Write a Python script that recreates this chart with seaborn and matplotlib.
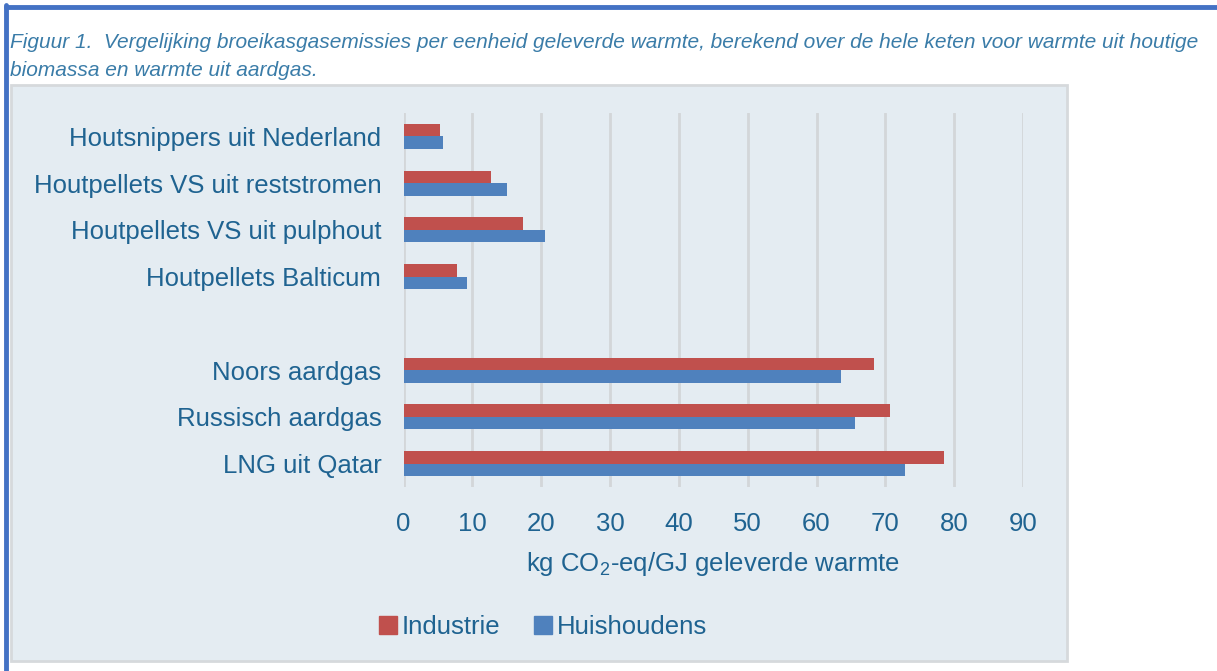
import matplotlib
matplotlib.use("Agg")
import matplotlib.pyplot as plt
from matplotlib.patches import Rectangle
from matplotlib.lines import Line2D
import pandas as pd
import seaborn as sns

# Data
categories = [
    "Houtsnippers uit Nederland",
    "Houtpellets VS uit reststromen",
    "Houtpellets VS uit pulphout",
    "Houtpellets Balticum",
    "Noors aardgas",
    "Russisch aardgas",
    "LNG uit Qatar",
]
industrie = [5.3, 12.7, 17.3, 7.7, 68.4, 70.7, 78.5]
huishoudens = [5.8, 15.1, 20.5, 9.2, 63.5, 65.6, 72.8]
series = ["Industrie", "Huishoudens"]
colors = ["#C0504D", "#4F81BD"]
xticks = [0, 10, 20, 30, 40, 50, 60, 70, 80, 90]

# empty slot between wood and gas groups
order = categories[:4] + [" "] + categories[4:]

df = pd.DataFrame({
    "categorie": categories * 2,
    "waarde": industrie + huishoudens,
    "reeks": [series[0]] * len(categories) + [series[1]] * len(categories),
})

sns.set_style("white")
plt.rcParams["font.family"] = ["Liberation Sans", "DejaVu Sans"]
plt.rcParams["mathtext.fontset"] = "custom"
plt.rcParams["mathtext.rm"] = "Liberation Sans"

txt = "#1f6391"
bg = "#e4ecf2"
fs = 18.5

fig = plt.figure(figsize=(12.17, 6.71), dpi=100)

# chart panel with light border
fig.patches.append(Rectangle((11 / 1217, 1 - 661 / 671), 1056 / 1217, 576 / 671,
                             transform=fig.transFigure, facecolor=bg,
                             edgecolor="#d6d9dc", linewidth=2, zorder=0))
# blue frame of the page on left and top
fig.lines.append(Line2D([6 / 1217, 6 / 1217], [0, 1 - 5 / 671], transform=fig.transFigure,
                        color="#4472C4", linewidth=3.5))
fig.lines.append(Line2D([6 / 1217, 1], [1 - 7 / 671, 1 - 7 / 671], transform=fig.transFigure,
                        color="#4472C4", linewidth=3.5))

fig.text(10 / 1217, 1 - 42 / 671,
         "Figuur 1.  Vergelijking broeikasgasemissies per eenheid geleverde warmte, "
         "berekend over de hele keten voor warmte uit houtige",
         fontsize=15, style="italic", color="#3a7ca8", va="center", ha="left")
fig.text(10 / 1217, 1 - 70 / 671, "biomassa en warmte uit aardgas.",
         fontsize=15, style="italic", color="#3a7ca8", va="center", ha="left")

ax = fig.add_axes([403.5 / 1217, 1 - 487 / 671, 619.5 / 1217, 374 / 671])
ax.set_zorder(3)
ax.set_facecolor("none")

sns.barplot(data=df, y="categorie", x="waarde", hue="reeks", order=order,
            hue_order=series, palette=colors, orient="h", width=0.54,
            saturation=1, ax=ax, legend=False, zorder=3, linewidth=0)

ax.set_xlim(0, 90)
ax.set_ylim(len(order) - 0.5, -0.5)
ax.set_xticks(xticks)
ax.set_xticklabels([str(t) for t in xticks])
ax.grid(axis="x", color="#d3d6d9", linewidth=2, zorder=0)
ax.set_axisbelow(True)
for s in ax.spines.values():
    s.set_visible(False)
ax.tick_params(axis="both", length=0, labelsize=fs, labelcolor=txt)
ax.tick_params(axis="y", pad=16)
ax.tick_params(axis="x", pad=18)
ax.set_ylabel("")
ax.set_xlabel(r"kg CO$_\mathregular{2}$-eq/GJ geleverde warmte", fontsize=fs,
              color=txt, labelpad=10)

handles = [Rectangle((0, 0), 1, 1, color=c) for c in colors]
fig.legend(handles, series, loc="center", bbox_to_anchor=(543 / 1217, 1 - 627 / 671),
           ncol=2, frameon=False, fontsize=fs, labelcolor=txt,
           handlelength=0.7, handleheight=0.7, handletextpad=0.2, columnspacing=1.3)

fig.savefig("out.png", dpi=100)
